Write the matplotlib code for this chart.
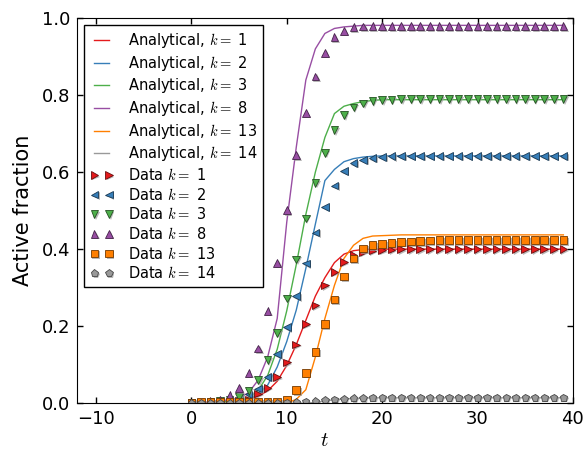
import matplotlib
matplotlib.use("Agg")
import matplotlib.pyplot as plt
import matplotlib.patheffects as pe
import matplotlib.colors as mcolors
import numpy as np

plt.rcParams['mathtext.fontset'] = 'cm'

t = np.arange(0, 40)

# Data values (t = 0 .. 39)
data_k1 = [0.0, 0.001, 0.001, 0.002, 0.003, 0.006, 0.010, 0.025, 0.040, 0.068,
           0.106, 0.152, 0.206, 0.254, 0.306, 0.341, 0.367, 0.384, 0.393, 0.396,
           0.398, 0.399] + [0.400] * 18
data_k2 = [0.0, 0.001, 0.002, 0.004, 0.007, 0.013, 0.023, 0.038, 0.068, 0.127,
           0.197, 0.278, 0.363, 0.443, 0.510, 0.565, 0.603, 0.624, 0.632, 0.637,
           0.640, 0.641] + [0.642] * 18
data_k3 = [0.0, 0.001, 0.003, 0.005, 0.009, 0.016, 0.032, 0.060, 0.112, 0.183,
           0.272, 0.373, 0.480, 0.572, 0.650, 0.709, 0.748, 0.768, 0.778, 0.784,
           0.787, 0.788] + [0.789] * 18
data_k8 = [0.0, 0.002, 0.005, 0.010, 0.021, 0.039, 0.079, 0.142, 0.240, 0.364,
           0.501, 0.644, 0.754, 0.848, 0.910, 0.950, 0.967, 0.976, 0.978] + [0.979] * 21
data_k13 = [0.002, 0.003, 0.003, 0.003, 0.003, 0.003, 0.003, 0.003, 0.003, 0.003,
            0.010, 0.034, 0.079, 0.133, 0.205, 0.269, 0.329, 0.376, 0.402, 0.410,
            0.414, 0.416, 0.419, 0.420, 0.421, 0.422] + [0.423] * 14
data_k14 = [0.001] * 10 + [0.002, 0.003, 0.004, 0.005, 0.008, 0.010, 0.011, 0.013,
                           0.014] + [0.015] * 21

# Analytical curves
ana_k1 = [0.0, 0.001, 0.002, 0.003, 0.005, 0.007, 0.011, 0.018, 0.032, 0.057,
          0.098, 0.152, 0.215, 0.278, 0.326, 0.365, 0.387, 0.396, 0.399] + [0.400] * 21
ana_k2 = [0.0, 0.001, 0.002, 0.003, 0.005, 0.008, 0.012, 0.023, 0.047, 0.094,
          0.160, 0.242, 0.350, 0.465, 0.578, 0.607, 0.627, 0.635, 0.639, 0.641] + [0.642] * 20
ana_k3 = [0.0, 0.001, 0.002, 0.003, 0.005, 0.008, 0.013, 0.033, 0.072, 0.140,
          0.240, 0.360, 0.490, 0.600, 0.690, 0.752, 0.771, 0.778, 0.783, 0.786] + [0.788] * 20
ana_k8 = [0.0, 0.001, 0.003, 0.006, 0.009, 0.014, 0.027, 0.060, 0.120, 0.220,
          0.470, 0.665, 0.839, 0.920, 0.960, 0.973, 0.977, 0.979] + [0.981] * 22
ana_k13 = [0.0] * 11 + [0.010, 0.035, 0.120, 0.220, 0.306, 0.376, 0.410, 0.428,
                        0.434, 0.435, 0.436] + [0.437] * 18
ana_k14 = [0.0] * 13 + [0.002, 0.006, 0.009, 0.011, 0.012, 0.013] + [0.014] * 21

k_values = [1, 2, 3, 8, 13, 14]
colors = ['#e41a1c', '#377eb8', '#4daf4a', '#984ea3', '#ff7f00', '#999999']
markers = ['>', '<', 'v', '^', 's', 'p']
analytical = [ana_k1, ana_k2, ana_k3, ana_k8, ana_k13, ana_k14]
data = [data_k1, data_k2, data_k3, data_k8, data_k13, data_k14]

fig = plt.figure(figsize=(5.87, 4.51), dpi=100)
ax = fig.add_axes([0.131, 0.106, 0.845, 0.854])

for k, c, y in zip(k_values, colors, analytical):
    ax.plot(t, y, '-', color=c, lw=1.0, label=r'Analytical, $k=$ %d' % k)

shadow = [pe.SimplePatchShadow(offset=(1.2, -1.2), shadow_rgbFace='#9a9a9a', alpha=0.7),
          pe.Normal()]
for k, c, m, y in zip(k_values, colors, markers, data):
    edge = np.array(mcolors.to_rgb(c)) * 0.45
    ax.plot(t, y, linestyle='none', marker=m, markersize=5.5, color=c,
            markeredgecolor=edge, markeredgewidth=0.6,
            path_effects=shadow, label=r'Data $k=$ %d' % k)

ax.set_xlim(-12, 40)
ax.set_ylim(0, 1.0)
ax.set_xticks([-10, 0, 10, 20, 30, 40])
ax.set_yticks([0.0, 0.2, 0.4, 0.6, 0.8, 1.0])
ax.tick_params(direction='in', top=True, right=True, length=4.5, width=1,
               labelsize=13, pad=5)
ax.set_xlabel(r'$t$', fontsize=15, labelpad=1)
ax.set_ylabel('Active fraction', fontsize=15, labelpad=6)

leg = ax.legend(loc='upper left', numpoints=2, fontsize=10.5, fancybox=False,
                framealpha=1, edgecolor='black', labelspacing=0.25,
                handlelength=1.6, handletextpad=1.0)
leg.get_frame().set_linewidth(1.0)

plt.savefig('out.png', dpi=100)
